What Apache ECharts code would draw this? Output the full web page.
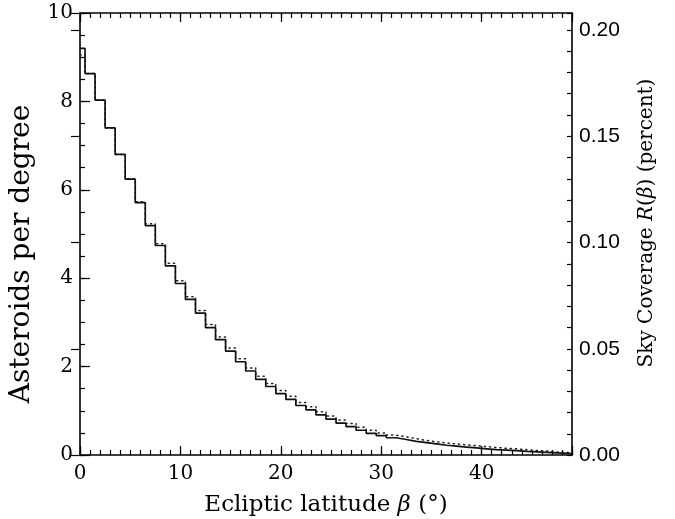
<!DOCTYPE html>
<html>
<head>
<meta charset="utf-8">
<script src="https://cdn.jsdelivr.net/npm/echarts@6/dist/echarts.min.js"></script>
<style>
html,body{margin:0;padding:0;background:#fff;}
#chart{width:675px;height:519px;}
</style>
</head>
<body>
<div id="chart"></div>
<script>
// Bin centres (degrees); first bin runs from 0 to 0.5, last from 48.5 to 49
var binCenters = [0,1,2,3,4,5,6,7,8,9,10,11,12,13,14,15,16,17,18,19,20,21,22,23,24,25,26,27,28,29,30,31,32,33,34,35,36,37,38,39,40,41,42,43,44,45,46,47,48,49];
// Solid histogram: asteroids per degree
var solidValues = [9.20,8.63,8.03,7.40,6.80,6.24,5.71,5.19,4.74,4.28,3.88,3.52,3.21,2.88,2.61,2.35,2.11,1.90,1.71,1.55,1.39,1.26,1.12,1.02,0.91,0.81,0.72,0.64,0.56,0.49,0.44,0.39,0.35,0.31,0.28,0.25,0.22,0.20,0.18,0.16,0.14,0.12,0.11,0.10,0.08,0.07,0.06,0.05,0.04,0.03];
// Dotted histogram
var dottedValues = [9.05,8.63,8.03,7.40,6.80,6.25,5.73,5.23,4.78,4.34,3.94,3.58,3.27,2.95,2.67,2.42,2.18,1.97,1.78,1.62,1.46,1.33,1.19,1.09,0.98,0.88,0.79,0.71,0.63,0.56,0.50,0.45,0.41,0.37,0.33,0.30,0.27,0.25,0.23,0.21,0.19,0.17,0.15,0.14,0.12,0.10,0.09,0.07,0.06,0.05];
var xMax = 49;
var xMajorTicks = 10;
var yLeftMax = 10;
var yRightMax = 0.208;

function stepData(vals){
  var d = [];
  for (var i = 0; i < binCenters.length; i++) {
    d.push([Math.max(0, binCenters[i] - 0.5), vals[i]]);
  }
  d.push([xMax, vals[vals.length - 1]]);
  return d;
}

var serif = 'DejaVu Serif';
var black = '#000';
var chart = echarts.init(document.getElementById('chart'), null, {renderer: 'canvas'});

function xAx(pos, interval, len, withLabel, withLine){
  return {
    type: 'value', position: pos, min: 0, max: xMax, interval: interval,
    axisLine: {show: withLine, onZero: false, lineStyle: {color: black, width: 1.6}},
    axisTick: {show: true, inside: true, length: len, lineStyle: {color: black, width: 1.2}},
    axisLabel: withLabel ? {
      show: true, color: black, fontFamily: serif, fontSize: 20, margin: 9,
      formatter: function(v){ return (Math.round(v) % xMajorTicks === 0 && Math.abs(v - Math.round(v)) < 1e-9 && v < xMax) ? String(Math.round(v)) : ''; }
    } : {show: false},
    splitLine: {show: false}
  };
}

var option = {
  backgroundColor: '#fff',
  animation: false,
  grid: {left: 80, right: 103, top: 13, bottom: 64, containLabel: false, outerBoundsMode: 'none'},
  xAxis: [
    Object.assign(xAx('bottom', 1, 5, true, true), {
      name: 'Ecliptic latitude {i|β} (°)', nameLocation: 'middle', nameGap: 39,
      nameTextStyle: {color: black, fontFamily: serif, fontSize: 23,
        rich: {i: {fontFamily: serif, fontStyle: 'italic', fontSize: 23, color: black}}}
    }),
    xAx('bottom', 10, 9, false, false),
    xAx('top', 1, 5, false, true),
    xAx('top', 10, 9, false, false)
  ],
  yAxis: [
    {
      type: 'value', position: 'left', min: 0, max: yLeftMax, interval: 0.5,
      axisLine: {show: true, onZero: false, lineStyle: {color: black, width: 1.6}},
      axisTick: {show: true, inside: true, length: 5, lineStyle: {color: black, width: 1.2}},
      axisLabel: {show: true, color: black, fontFamily: serif, fontSize: 20, margin: 7,
        formatter: function(v){ return (Math.abs(v/2 - Math.round(v/2)) < 1e-9) ? String(v) : ''; }},
      splitLine: {show: false},
      name: 'Asteroids per degree', nameLocation: 'middle', nameGap: 44, nameRotate: 90,
      nameTextStyle: {color: black, fontFamily: serif, fontSize: 28, padding: [0, 40, 0, 0]}
    },
    {
      type: 'value', position: 'left', min: 0, max: yLeftMax, interval: 2,
      axisLine: {show: false},
      axisTick: {show: true, inside: true, length: 10, lineStyle: {color: black, width: 1.2}},
      axisLabel: {show: false}, splitLine: {show: false}
    },
    {
      type: 'value', position: 'right', min: 0, max: yRightMax, interval: 0.01,
      axisLine: {show: true, onZero: false, lineStyle: {color: black, width: 1.6}},
      axisTick: {show: true, inside: true, length: 5, lineStyle: {color: black, width: 1.2}},
      axisLabel: {show: true, color: black, fontFamily: 'Liberation Sans', fontSize: 21, margin: 7,
        formatter: function(v){ var r = v / 0.05; return (Math.abs(r - Math.round(r)) < 1e-6 && v < yRightMax - 1e-6) ? v.toFixed(2) : ''; }},
      splitLine: {show: false},
      name: 'Sky Coverage {i|R}({i|β}) (percent)', nameLocation: 'middle', nameGap: 65, nameRotate: 90,
      nameTextStyle: {color: black, fontFamily: serif, fontSize: 20, padding: [0, 0, 0, 22],
        rich: {i: {fontFamily: serif, fontStyle: 'italic', fontSize: 20, color: black}}}
    },
    {
      type: 'value', position: 'right', min: 0, max: yRightMax, interval: 0.05,
      axisLine: {show: false},
      axisTick: {show: true, inside: true, length: 9, lineStyle: {color: black, width: 1.2}},
      axisLabel: {show: false}, splitLine: {show: false}
    }
  ],
  series: [
    {
      name: 'dotted', type: 'line', step: 'end', xAxisIndex: 0, yAxisIndex: 0,
      showSymbol: false, symbol: 'none', silent: true,
      lineStyle: {color: '#222', width: 1.5, type: [1.2, 4], cap: 'round'},
      data: stepData(dottedValues), z: 2
    },
    {
      name: 'solid', type: 'line', step: 'end', xAxisIndex: 0, yAxisIndex: 0,
      showSymbol: false, symbol: 'none', silent: true,
      lineStyle: {color: '#111', width: 1.7},
      data: stepData(solidValues), z: 3
    }
  ]
};
chart.setOption(option);
</script>
</body>
</html>
